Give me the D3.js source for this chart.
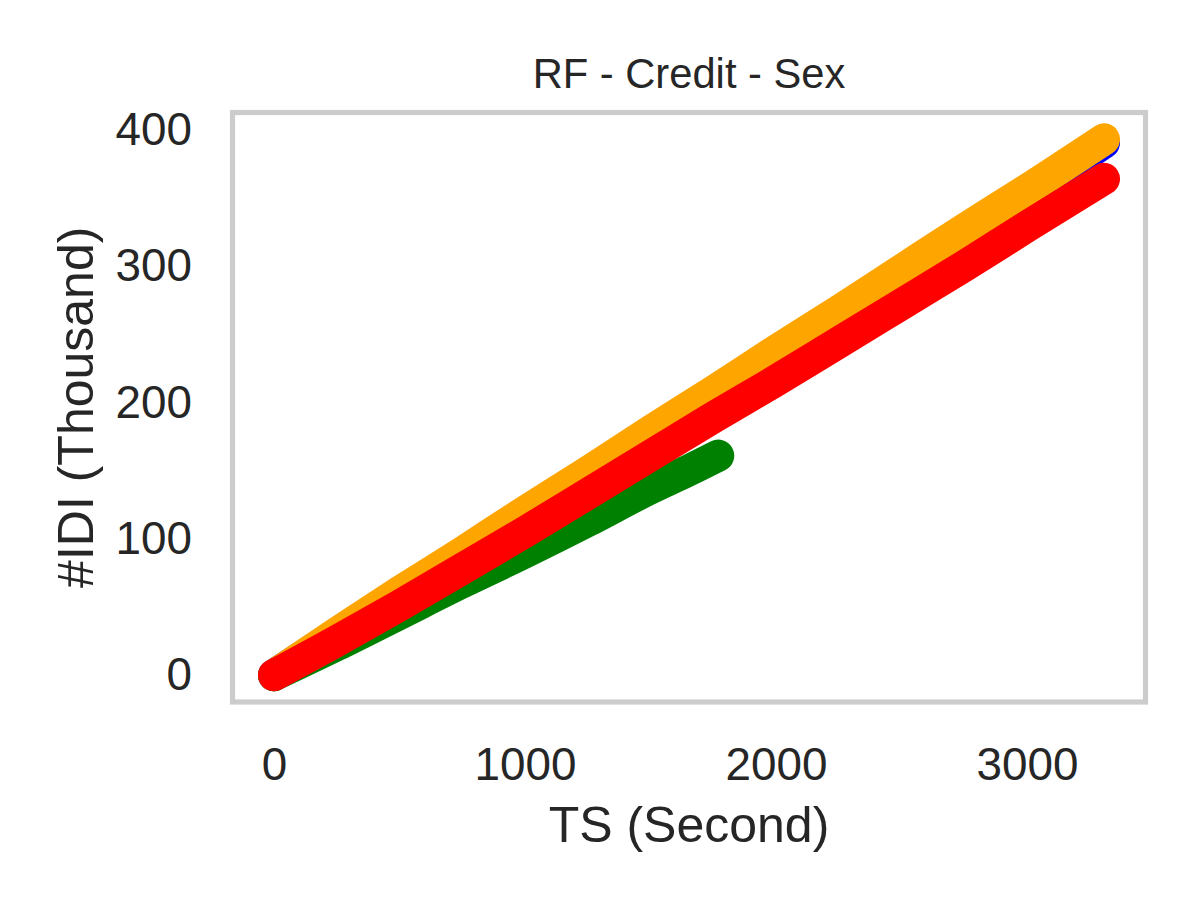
<!DOCTYPE html>
<html>
<head>
<meta charset="utf-8">
<script src="https://cdn.jsdelivr.net/npm/d3@7"></script>
<style>
  html, body { margin: 0; padding: 0; background: #ffffff; }
  text { font-family: "Liberation Sans", Arial, sans-serif; fill: #262626; }
</style>
</head>
<body>
<svg id="chart" width="1200" height="900"></svg>
<script>
// values (TS in seconds, #IDI in thousands)
let blue_x   = [0, 250, 500, 750, 1000, 1250, 1500, 1750, 2000, 2250, 2500, 2750, 3000, 3307];
let blue_y   = [0, 30, 60, 89, 118, 147, 176, 205, 235, 264, 294, 324, 353, 390.5];
let orange_x = [0, 250, 500, 750, 1000, 1250, 1500, 1750, 2000, 2250, 2500, 2750, 3000, 3307];
let orange_y = [0, 31, 61, 90, 120, 149, 179, 208, 238, 267, 297, 327, 356, 393];
let green_x  = [0, 250, 500, 750, 1000, 1250, 1500, 1650, 1770];
let green_y  = [0, 22, 45, 68, 90, 113, 137, 150, 161];
let red_x    = [0, 250, 500, 750, 1000, 1250, 1500, 1750, 2000, 2250, 2500, 2750, 3000, 3307];
let red_y    = [0, 25, 51, 78, 105, 133, 161, 189, 216, 244, 272, 300, 329, 364];

let x_ticks = [0, 1000, 2000, 3000];
let y_ticks = [0, 100, 200, 300, 400];

let title   = 'RF - Credit - Sex';
let x_label = 'TS (Second)';
let y_label = '#IDI (Thousand)';

function zip (xs, ys) {
    return xs.map((x, i) => { return { x: x, y: ys[i] }; });
}

function drawChart () {
    let svg = d3.select('#chart');

    // axes box in pixels
    let left = 232.5, right = 1145.5, top = 112.5, bottom = 702;

    let series = [
        { _id: 1, color: '#0000ff', data: zip(blue_x, blue_y) },
        { _id: 2, color: '#ffa500', data: zip(orange_x, orange_y) },
        { _id: 3, color: '#008000', data: zip(green_x, green_y) },
        { _id: 4, color: '#ff0000', data: zip(red_x, red_y) },
    ];

    // matplotlib style 5% margins
    let all = [].concat(...series.map((s) => { return s.data; }));
    let x_ext = d3.extent(all, (d) => { return d.x; });
    let y_ext = d3.extent(all, (d) => { return d.y; });
    let x_pad = (x_ext[1] - x_ext[0]) * 0.05;
    let y_pad = (y_ext[1] - y_ext[0]) * 0.05;

    let x = d3.scaleLinear()
        .domain([x_ext[0] - x_pad, x_ext[1] + x_pad])
        .range([left, right]);
    let y = d3.scaleLinear()
        .domain([y_ext[0] - y_pad, y_ext[1] + y_pad])
        .range([bottom, top]);

    let line = d3.line()
        .curve(d3.curveMonotoneX)
        .x((d) => { return x(d.x); })
        .y((d) => { return y(d.y); });

    let plot = svg.append('g').attr('class', 'plot');

    plot.selectAll('path.series')
        .data(series, (d) => { return d._id; })
        .enter()
        .append('path')
        .attr('class', 'series')
        .attr('d', (d) => { return line(d.data); })
        .attr('fill', 'none')
        .attr('stroke', (d) => { return d.color; })
        .attr('stroke-width', 32)
        .attr('stroke-linecap', 'round')
        .attr('stroke-linejoin', 'round');

    // frame
    svg.append('rect')
        .attr('x', left)
        .attr('y', top)
        .attr('width', right - left)
        .attr('height', bottom - top)
        .attr('fill', 'none')
        .attr('stroke', '#cccccc')
        .attr('stroke-width', 5.2);

    let x_axis = svg.append('g')
        .attr('transform', 'translate(0,' + bottom + ')')
        .call(d3.axisBottom(x).tickValues(x_ticks).tickSize(0).tickPadding(45.5)
              .tickFormat(d3.format('d')));
    let y_axis = svg.append('g')
        .attr('transform', 'translate(' + left + ',0)')
        .call(d3.axisLeft(y).tickValues(y_ticks).tickSize(0).tickPadding(40.5)
              .tickFormat(d3.format('d')));

    [x_axis, y_axis].forEach((g) => {
        g.select('.domain').remove();
        g.selectAll('text')
            .attr('font-family', '"Liberation Sans", Arial, sans-serif')
            .attr('font-size', 45.8)
            .attr('fill', '#262626');
    });

    svg.append('text')
        .attr('x', (left + right) / 2)
        .attr('y', 88)
        .attr('text-anchor', 'middle')
        .attr('font-size', 41.7)
        .text(title);

    svg.append('text')
        .attr('x', (left + right) / 2)
        .attr('y', 842)
        .attr('text-anchor', 'middle')
        .attr('font-size', 50)
        .text(x_label);

    svg.append('text')
        .attr('transform', 'translate(93,' + ((top + bottom) / 2) + ') rotate(-90)')
        .attr('text-anchor', 'middle')
        .attr('font-size', 50)
        .text(y_label);
}

drawChart();
</script>
</body>
</html>
